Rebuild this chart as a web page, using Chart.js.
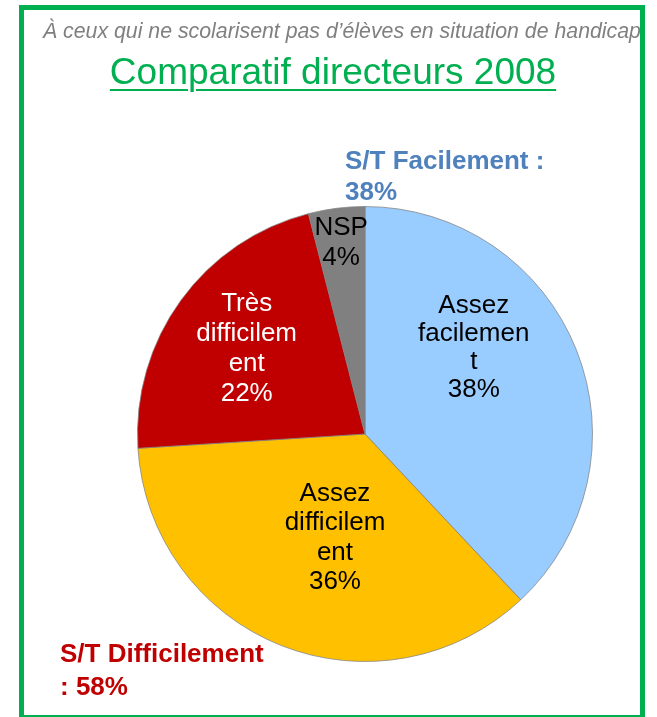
<!DOCTYPE html>
<html>
<head>
<meta charset="utf-8">
<script src="https://cdn.jsdelivr.net/npm/chart.js@4/dist/chart.umd.min.js"></script>
<style>
  html, body { margin: 0; padding: 0; background: #ffffff; }
  #wrap { position: relative; width: 657px; height: 717px; overflow: hidden; background: #fff; }
  #c { position: absolute; left: 0; top: 0; }
  .frame { position: absolute; left: 19px; top: 5px; width: 616px; height: 705px; border: 5px solid #00B050; box-sizing: content-box; pointer-events: none; }
  .sub { position: absolute; left: 24px; top: 10px; width: 616px; height: 40px; overflow: hidden; }
  .sub span { position: absolute; left: 19px; top: 10px; font: italic 21.3px "Liberation Sans", Arial, sans-serif; color: #808080; white-space: nowrap; line-height: 22px; }
  .title { position: absolute; left: 0; width: 666px; top: 50px; text-align: center; font: 37px "Liberation Sans", Arial, sans-serif; color: #00B050; text-decoration: underline; text-decoration-thickness: 2px; text-underline-offset: 5px; line-height: 44px; white-space: nowrap; }
  .note { position: absolute; font: bold 26px "Liberation Sans", Arial, sans-serif; white-space: nowrap; }
</style>
</head>
<body>
<div id="wrap">
  <canvas id="c" width="657" height="717"></canvas>
  <div class="sub"><span id="subtitle"></span></div>
  <div class="title" id="title"></div>
  <div class="note" id="noteEasy" style="left:345px; top:145px; line-height:31px; color:#4F81BD;"></div>
  <div class="note" id="noteHard" style="left:60px; top:637px; line-height:33px; color:#C00000;"></div>
  <div class="frame"></div>
</div>
<script>
// ---- data ----
const subtitleText = "À ceux qui ne scolarisent pas d’élèves en situation de handicap";
const titleText = "Comparatif directeurs 2008";
const categories = ["Assez facilement", "Assez difficilement", "Très difficilement", "NSP"];
const labelLines = [["Assez", "facilemen", "t"], ["Assez", "difficilem", "ent"], ["Très", "difficilem", "ent"], ["NSP"]];
const values = [38, 36, 22, 4];
const sliceColors = ["#99CCFF", "#FFC000", "#C00000", "#808080"];
const labelColors = ["#000000", "#000000", "#ffffff", "#000000"];
const easyGroup = [0];
const hardGroup = [1, 2];

document.getElementById('subtitle').textContent = subtitleText;
document.getElementById('title').textContent = titleText;
const sumOf = idx => idx.reduce((s, i) => s + values[i], 0);
document.getElementById('noteEasy').innerHTML = 'S/T Facilement :<br>' + sumOf(easyGroup) + '%';
document.getElementById('noteHard').innerHTML = 'S/T Difficilement<br>: ' + sumOf(hardGroup) + '%';

// label anchors relative to pie centre, in units of the radius
const labelAnchors = [[0.478, -0.390], [-0.132, 0.447], [-0.520, -0.383], [-0.105, -0.849]];
const labelLineHeights = [28, 29.5, 30, 30];

const sliceLabels = {
  id: 'sliceLabels',
  afterDatasetsDraw(chart) {
    const ctx = chart.ctx;
    const meta = chart.getDatasetMeta(0);
    const fontSize = 26;
    const cap = fontSize * 0.716;
    ctx.save();
    ctx.font = fontSize + 'px "Liberation Sans", Arial, sans-serif';
    ctx.textAlign = 'center';
    ctx.textBaseline = 'alphabetic';
    meta.data.forEach((arc, i) => {
      const p = arc.getProps(['x', 'y', 'outerRadius'], true);
      const cx = p.x + labelAnchors[i][0] * p.outerRadius;
      const cy = p.y + labelAnchors[i][1] * p.outerRadius;
      const lines = labelLines[i].concat([values[i] + '%']);
      const lh = labelLineHeights[i];
      const H = (lines.length - 1) * lh + cap;
      let y = cy - H / 2 + cap;
      ctx.fillStyle = labelColors[i];
      lines.forEach(t => { ctx.fillText(t, cx, y); y += lh; });
    });
    ctx.restore();
  }
};

new Chart(document.getElementById('c'), {
  type: 'pie',
  data: {
    labels: categories,
    datasets: [{
      data: values,
      backgroundColor: sliceColors,
      borderColor: 'rgba(130,130,130,0.75)',
      borderWidth: 1
    }]
  },
  options: {
    responsive: false,
    animation: false,
    events: [],
    layout: { padding: { left: 137, right: 64, top: 206, bottom: 55 } },
    plugins: { legend: { display: false }, tooltip: { enabled: false }, title: { display: false } }
  },
  plugins: [sliceLabels]
});
</script>
</body>
</html>
